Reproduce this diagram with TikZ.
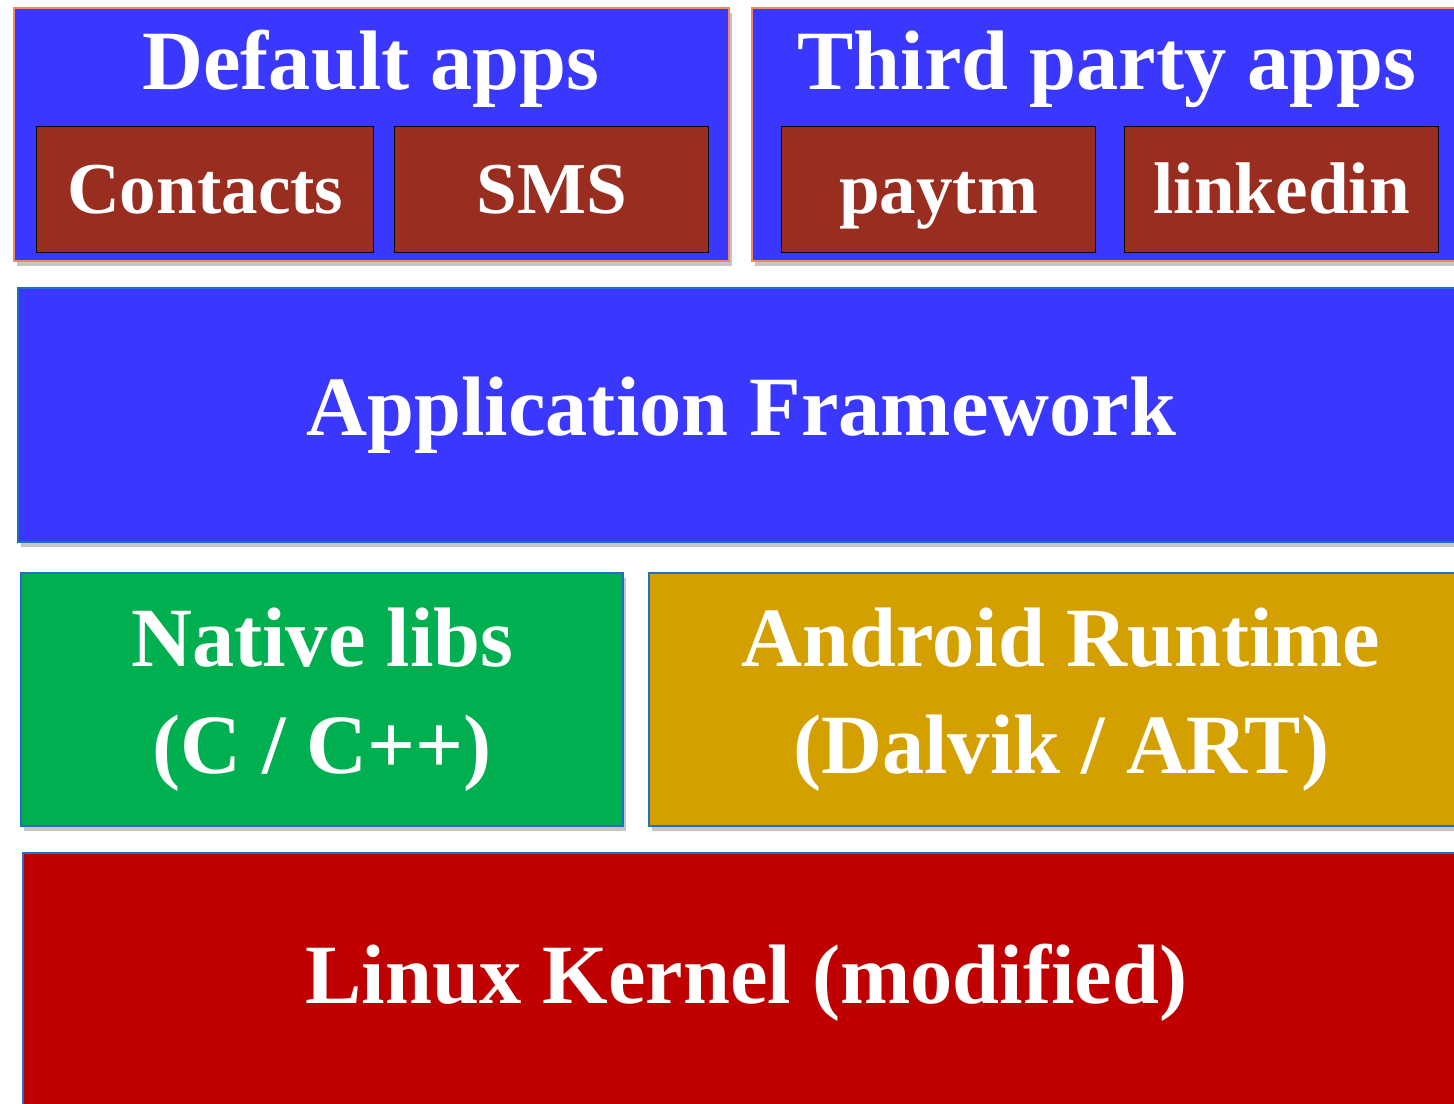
\documentclass[tikz,border=0pt]{standalone}
\usepackage{fontspec}
\setmainfont{Liberation Serif}
\usetikzlibrary{shadows}
\definecolor{appblue}{RGB}{58,56,255}
\definecolor{appedge}{RGB}{240,135,105}
\definecolor{appbrown}{RGB}{153,45,32}
\definecolor{layeredge}{RGB}{30,112,192}
\definecolor{libgreen}{RGB}{0,176,80}
\definecolor{rtgold}{RGB}{212,160,0}
\definecolor{kernred}{RGB}{192,0,0}
\tikzset{
  layer/.style={draw=layeredge, line width=0.02cm, anchor=north west, inner sep=0pt,
    text=white, align=center, font=\bfseries\fontsize{24}{30.5}\selectfont,
    drop shadow={shadow xshift=0.03cm, shadow yshift=-0.05cm, opacity=0.45}},
  appbox/.style={draw=black, line width=0.012cm, fill=appbrown, anchor=north west,
    inner sep=0pt, text=white, text height=13.5pt, text depth=0pt,
    font=\bfseries\fontsize{20.8}{24}\selectfont},
  grouptitle/.style={anchor=base, text=white, font=\bfseries\fontsize{24}{30}\selectfont},
}
\begin{document}
\begin{tikzpicture}[x=0.01cm, y=-0.01cm]
  \useasboundingbox (0,0) rectangle (1454,1104);
  \clip (0,0) rectangle (1454,1104);

  % Drawing group of default apps
  \node [layer, draw=appedge, fill=appblue, minimum width=7.15cm, minimum height=2.53cm] (default) at (13,7) {};
  \node [grouptitle] (defaulttitle) at (371,90) {Default apps};
  \node [appbox, minimum width=3.37cm, minimum height=1.26cm] (contacts) at (36,126) {Contacts};
  \node [appbox, minimum width=3.14cm, minimum height=1.26cm] (sms) at (394,126) {SMS};

  % Drawing group of third party apps
  \node [layer, draw=appedge, fill=appblue, minimum width=7.11cm, minimum height=2.53cm] (third) at (751,7) {};
  \node [grouptitle] (thirdtitle) at (1107,90) {Third party apps};
  \node [appbox, minimum width=3.14cm, minimum height=1.26cm] (paytm) at (781,126) {paytm};
  \node [appbox, minimum width=3.14cm, minimum height=1.26cm] (linkedin) at (1124,126) {linkedin};

  % Drawing application framework
  \node [layer, fill=appblue, minimum width=14.46cm, minimum height=2.54cm] (framework) at (17,287) {Application Framework};

  % Drawing native libs and runtime
  \node [layer, fill=libgreen, minimum width=6.02cm, minimum height=2.53cm] (native) at (20,572) {Native libs\\(C / C++)};
  \node [layer, fill=rtgold, minimum width=8.24cm, minimum height=2.53cm] (runtime) at (648,572) {Android Runtime\\(Dalvik / ART)};

  % Drawing kernel
  \node [layer, fill=kernred, minimum width=14.46cm, minimum height=2.6cm] (kernel) at (22,852) {Linux Kernel (modified)};
\end{tikzpicture}
\end{document}
